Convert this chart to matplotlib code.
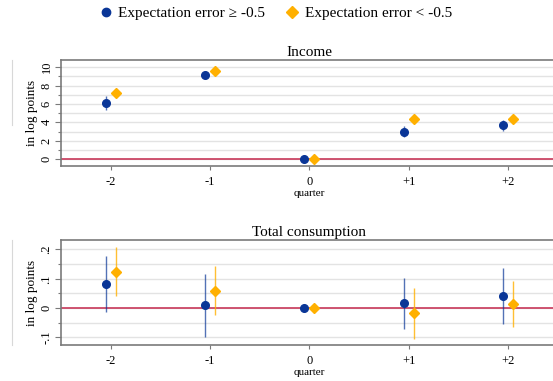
import matplotlib
matplotlib.use("Agg")
import matplotlib.pyplot as plt
from matplotlib.lines import Line2D
import numpy as np

plt.rcParams["font.family"] = ["Liberation Serif", "DejaVu Serif"]

quarters = [-2, -1, 0, 1, 2]
quarter_labels = ["-2", "-1", "0", "+1", "+2"]

# income (in log points)
inc_hi = [6.1, 9.2, 0.0, 3.0, 3.7]
inc_hi_lo = [5.3, 8.9, 0.0, 2.4, 3.1]
inc_hi_up = [6.9, 9.5, 0.0, 3.6, 4.3]
inc_lo = [7.2, 9.6, 0.0, 4.4, 4.4]
inc_lo_lo = [6.9, 9.3, 0.0, 4.1, 4.1]
inc_lo_up = [7.5, 9.9, 0.0, 4.7, 4.7]

# total consumption (in log points)
con_hi = [0.083, 0.009, 0.0, 0.016, 0.041]
con_hi_lo = [-0.013, -0.099, 0.0, -0.071, -0.054]
con_hi_up = [0.177, 0.116, 0.0, 0.101, 0.138]
con_lo = [0.124, 0.059, 0.0, -0.018, 0.014]
con_lo_lo = [0.041, -0.024, 0.0, -0.105, -0.066]
con_lo_up = [0.207, 0.143, 0.0, 0.068, 0.093]

blue = "#0a3697"
orange = "#ffb000"
zero_col = "#c8385a"
grid_col = "#e3e3e3"
spine_col = "#7a7a7a"

fig = plt.figure(figsize=(5.53, 3.81), dpi=100)
ax1 = fig.add_axes([0.110, 0.564, 0.899, 0.279])
ax2 = fig.add_axes([0.110, 0.0945, 0.899, 0.2745])


def panel(ax, title, hi, hi_lo, hi_up, lo, lo_lo, lo_up, ylim, major, minor, fmt):
    x = np.array(quarters, dtype=float)
    for yv in minor:
        ax.axhline(yv, color=grid_col, lw=1.0, zorder=0)
    ax.axhline(0, color=zero_col, lw=1.2, zorder=1)
    ax.vlines(x - 0.05, hi_lo, hi_up, color=blue, lw=1.0, alpha=0.7, zorder=2)
    ax.vlines(x + 0.05, lo_lo, lo_up, color=orange, lw=1.0, alpha=0.8, zorder=2)
    ax.plot(x - 0.05, hi, "o", color=blue, ms=5.5, zorder=3)
    ax.plot(x + 0.05, lo, "D", color=orange, ms=5.5, zorder=3)
    ax.set_xlim(-2.5, 2.5)
    ax.set_ylim(*ylim)
    ax.set_xticks(quarters)
    ax.set_xticklabels(quarter_labels, fontsize=9)
    ax.set_yticks(major)
    ax.set_yticklabels([fmt(v) for v in major], fontsize=9, rotation=90, va="center")
    ax.set_yticks(minor, minor=True)
    ax.tick_params(axis="both", which="both", direction="out", color=spine_col, width=0.8)
    ax.tick_params(axis="y", which="major", length=4, pad=2)
    ax.tick_params(axis="y", which="minor", length=2.5)
    ax.tick_params(axis="x", length=3, pad=4)
    for s in ["left", "bottom", "top", "right"]:
        ax.spines[s].set_color(spine_col)
        ax.spines[s].set_linewidth(1.2)
    ax.set_title(title, fontsize=11, pad=3)
    ax.set_ylabel("in log points", fontsize=9.5, labelpad=2)
    ax.set_xlabel("quarter", fontsize=8, labelpad=1)


panel(ax1, "Income", inc_hi, inc_hi_lo, inc_hi_up, inc_lo, inc_lo_lo, inc_lo_up,
      (-0.76, 10.8), [0, 2, 4, 6, 8, 10], list(range(0, 11)), lambda v: f"{v:g}")
panel(ax2, "Total consumption", con_hi, con_hi_lo, con_hi_up, con_lo, con_lo_lo, con_lo_up,
      (-0.126, 0.231), [-0.1, 0, 0.1, 0.2], [-0.1, -0.05, 0, 0.05, 0.1, 0.15, 0.2],
      lambda v: "0" if v == 0 else f"{v:g}".replace("0.", "."))

# faint left artifacts
fig.add_artist(Line2D([0.022, 0.022], [0.672, 0.843], color="#d8d8d8", lw=0.8))
fig.add_artist(Line2D([0.022, 0.022], [0.095, 0.369], color="#d8d8d8", lw=0.8))

handles = [
    Line2D([], [], marker="o", color=blue, ls="none", ms=6),
    Line2D([], [], marker="D", color=orange, ls="none", ms=6),
]
fig.legend(handles, ["Expectation error \u2265 -0.5", "Expectation error < -0.5"],
           loc="center", bbox_to_anchor=(0.497, 0.965), ncol=2, frameon=False,
           fontsize=11, handletextpad=0.3, columnspacing=1.3, handlelength=1.0)

fig.savefig("out.png", dpi=100)
